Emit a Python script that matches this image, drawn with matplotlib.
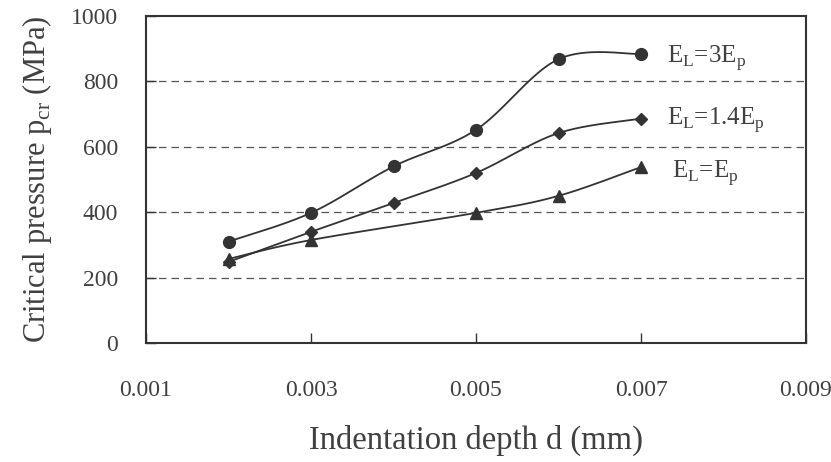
import numpy as np
import matplotlib
matplotlib.use("Agg")
import matplotlib.pyplot as plt

depth = [0.002, 0.003, 0.004, 0.005, 0.006, 0.007]
p_3ep = [310, 398, 540, 652, 868, 884]
p_14ep = [248, 340, 428, 520, 642, 686]
depth_ep = [0.002, 0.003, 0.005, 0.006, 0.007]
p_ep = [257, 315, 398, 450, 538]

labels = [r"E$_{\rm L}$=3E$_{\rm p}$", r"E$_{\rm L}$=1.4E$_{\rm p}$", r"E$_{\rm L}$=E$_{\rm p}$"]
label_y = [870, 680, 518]
label_x = [0.00732, 0.00732, 0.00737]
xticks = [0.001, 0.003, 0.005, 0.007, 0.009]
yticks = [0, 200, 400, 600, 800, 1000]

plt.rcParams['font.family'] = ['Liberation Serif', 'DejaVu Serif']
plt.rcParams['mathtext.fontset'] = 'custom'
plt.rcParams['mathtext.rm'] = 'Liberation Serif'

TXT = '#404040'
LINE = '#333333'


def smooth(x, y, n=40):
    # Excel-style smoothed line: cubic Bezier with Catmull-Rom control points
    x = np.asarray(x, float)
    y = np.asarray(y, float)
    px, py = [], []
    m = len(x)
    for i in range(m - 1):
        i0 = max(i - 1, 0)
        i3 = min(i + 2, m - 1)
        c1x = x[i] + (x[i + 1] - x[i0]) / 6
        c1y = y[i] + (y[i + 1] - y[i0]) / 6
        c2x = x[i + 1] - (x[i3] - x[i]) / 6
        c2y = y[i + 1] - (y[i3] - y[i]) / 6
        t = np.linspace(0, 1, n)
        a, b, c, d = (1 - t) ** 3, 3 * t * (1 - t) ** 2, 3 * t ** 2 * (1 - t), t ** 3
        px.extend(a * x[i] + b * c1x + c * c2x + d * x[i + 1])
        py.extend(a * y[i] + b * c1y + c * c2y + d * y[i + 1])
    return px, py


fig = plt.figure(figsize=(8.31, 4.62), dpi=100)
ax = fig.add_axes([146 / 831, 1 - 343 / 462, 660 / 831, 327 / 462])

series = [(depth, p_3ep, 'o', 8.5), (depth, p_14ep, 'D', 6.5), (depth_ep, p_ep, '^', 9)]
for xs, ys, mk, ms in series:
    sx, sy = smooth(xs, ys)
    ax.plot(sx, sy, color=LINE, lw=1.3, zorder=3)
    ax.plot(xs, ys, ls='none', marker=mk, ms=ms, color=LINE, zorder=4)

for lab, lx, ly in zip(labels, label_x, label_y):
    ax.text(lx, ly, lab, fontsize=18, color=TXT, va='center', ha='left')

ax.set_xlim(0.001, 0.009)
ax.set_ylim(0, 1000)
ax.set_xticks(xticks)
ax.set_xticklabels([f"{v:.3f}" for v in xticks])
ax.set_yticks(yticks)
ax.set_yticklabels([str(v) for v in yticks])
for v in yticks[1:-1]:
    ax.axhline(v, color='#555555', lw=0.9, ls=(0, (6, 4)), zorder=1)

ax.tick_params(axis='both', direction='in', length=7, width=1, color=LINE,
               labelsize=17, labelcolor=TXT)
ax.tick_params(axis='x', pad=27)
ax.tick_params(axis='y', pad=20)
for s in ax.spines.values():
    s.set_color(LINE)
    s.set_linewidth(1.5)

ax.set_xlabel("Indentation depth d (mm)", fontsize=23.5, color=TXT, labelpad=17)
ax.set_ylabel(r"Critical pressure p$_{\rm cr}$ (MPa)", fontsize=22, color=TXT, labelpad=12)

fig.savefig("out.png", dpi=100)
